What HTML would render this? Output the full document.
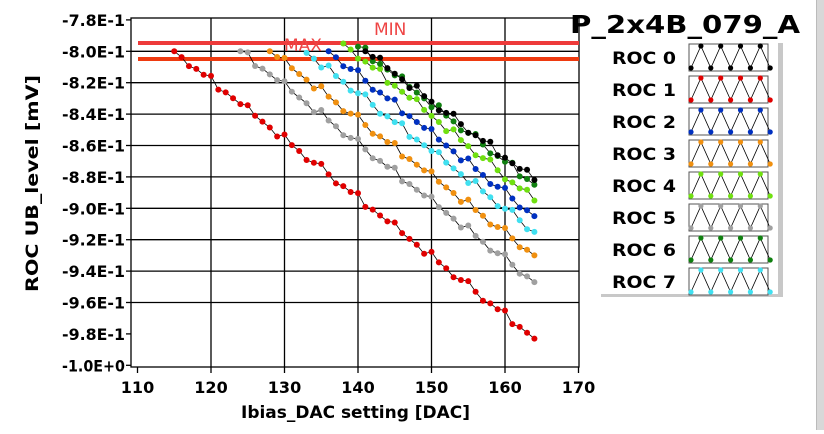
<!DOCTYPE html>
<html><head><meta charset="utf-8"><style>
body{margin:0;background:#fff;width:824px;height:430px;overflow:hidden;font-family:"DejaVu Sans","Liberation Sans",sans-serif}
</style></head><body>
<svg id="s" width="824" height="430" xmlns="http://www.w3.org/2000/svg" font-family="DejaVu Sans, Liberation Sans, sans-serif">
<rect x="0" y="0" width="824" height="430" fill="#fff"/>
<rect x="817" y="0" width="7" height="430" fill="#d8d8d8"/>
<rect x="816" y="0" width="1" height="430" fill="#bbb"/>
<g id="grid" stroke="#000" stroke-width="1.3"></g>
<rect x="131" y="18" width="448" height="349" fill="none" stroke="#000" stroke-width="1.3"/>
<rect x="138" y="41" width="441" height="4" fill="#ee3a3a"/>
<rect x="138" y="57" width="441" height="4" fill="#ee3a10"/>
<text x="284" y="51" font-size="17" fill="#ee4444">MAX</text>
<text x="374" y="35" font-size="17" fill="#ee4444">MIN</text>
<g id="data"></g>
<g id="ylab" font-size="16" font-weight="bold" text-anchor="end"></g>
<g id="xlab" font-size="16" font-weight="bold" text-anchor="middle"></g>
<text x="241" y="418" font-size="17" font-weight="bold" textLength="229" lengthAdjust="spacingAndGlyphs">Ibias_DAC setting [DAC]</text>
<text transform="translate(38,292) rotate(-90)" font-size="17" font-weight="bold" textLength="217" lengthAdjust="spacingAndGlyphs">ROC UB_level [mV]</text>
<text x="570" y="33" font-size="25" font-weight="bold" textLength="230" lengthAdjust="spacingAndGlyphs">P_2x4B_079_A</text>
<rect x="778" y="43" width="5" height="254" fill="#c8c8c8"/>
<rect x="601" y="294" width="182" height="3" fill="#c8c8c8"/>
<g id="leg"></g>
</svg>
<script>
var NS="http://www.w3.org/2000/svg";
function el(p,t,a,txt){var e=document.createElementNS(NS,t);for(var k in a)e.setAttribute(k,a[k]);if(txt!=null)e.textContent=txt;document.getElementById(p).appendChild(e);return e;}
function X(v){return 137.5+(v-110)*7.35;}
function Y(v){return 51.3+(-0.8-v)/0.02*31.4;}
for(var v=120;v<=160;v+=10)el("grid","line",{x1:X(v),x2:X(v),y1:18,y2:367});
for(var i=1;i<10;i++){var y=Y(-0.78-0.02*i);el("grid","line",{x1:131,x2:579,y1:y,y2:y});}
for(var v=110;v<=170;v+=10){el("grid","line",{x1:X(v),x2:X(v),y1:367,y2:373});el("xlab","text",{x:X(v),y:393},String(v));}
var yl=["-7.8E-1","-8.0E-1","-8.2E-1","-8.4E-1","-8.6E-1","-8.8E-1","-9.0E-1","-9.2E-1","-9.4E-1","-9.6E-1","-9.8E-1","-1.0E+0"];
for(var i=0;i<12;i++){var y=Y(-0.78-0.02*i);el("ylab","text",{x:125,y:y+6,textLength:63,lengthAdjust:"spacingAndGlyphs"},yl[i]);el("grid","line",{x1:126,x2:131,y1:y,y2:y});}
var S=[["#e00000",115,-0.80,-0.983],["#a0a0a0",124,-0.80,-0.947],["#f09010",128,-0.80,-0.930],["#40e0f0",133,-0.801,-0.915],["#0030c0",136,-0.80,-0.905],["#70e010",138,-0.795,-0.895],["#108010",140,-0.797,-0.885],["#000000",141,-0.80,-0.882]];
S.forEach(function(s,k){var pts=[];var n=164-s[1];for(var i=0;i<=n;i++){var x=s[1]+i;var f=i/n;var w=((i*7+k*3)%5===0)?0.003:((i%4===2)?-0.002:0);var v=s[2]+(s[3]-s[2])*f+(i>0&&i<n?w:0);pts.push([X(x),Y(v)]);}
el("data","polyline",{points:pts.map(function(p){return p[0].toFixed(1)+","+p[1].toFixed(1)}).join(" "),fill:"none",stroke:"#000","stroke-width":0.8});
pts.forEach(function(p){el("data","circle",{cx:p[0],cy:p[1],r:3,fill:s[0]});});});
var LC=["#000000","#e00000","#0030c0","#f09010","#70e010","#a0a0a0","#108010","#40e0f0"];
for(var i=0;i<8;i++){var t=44+32*i;el("leg","text",{x:612,y:t+20,"font-size":17,"font-weight":"bold",textLength:64,lengthAdjust:"spacingAndGlyphs"},"ROC "+i);
el("leg","rect",{x:689,y:t,width:79,height:27,fill:"#fff",stroke:"#555","stroke-width":1});
var pp=[];for(var j=0;j<9;j++){pp.push([691+j*9.9,j%2?t+2:t+24]);}
el("leg","polyline",{points:pp.map(function(p){return p.join(",")}).join(" "),fill:"none",stroke:"#000","stroke-width":0.8});
pp.forEach(function(p){el("leg","circle",{cx:p[0],cy:p[1],r:2.6,fill:LC[i]});});}
</script>
</body></html>
